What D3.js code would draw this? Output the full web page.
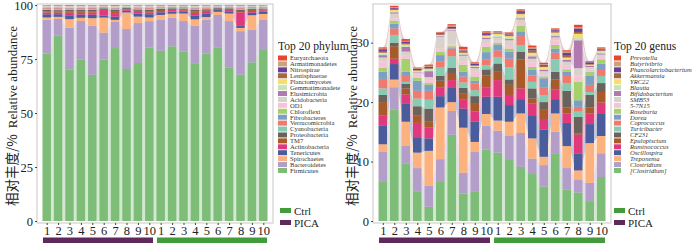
<!DOCTYPE html>
<html>
<head>
<meta charset="utf-8">
<script src="https://cdn.jsdelivr.net/npm/d3@7"></script>
<style>
  body { margin: 0; background: #fff; }
  svg { display: block; }
</style>
</head>
<body>
<svg id="chart" width="700" height="246"></svg>
<script>
// samples: 10 PICA then 10 Ctrl
const sampleLabels = ["1","2","3","4","5","6","7","8","9","10","1","2","3","4","5","6","7","8","9","10"];
const sampleGroups = ["PICA","PICA","PICA","PICA","PICA","PICA","PICA","PICA","PICA","PICA",
                      "Ctrl","Ctrl","Ctrl","Ctrl","Ctrl","Ctrl","Ctrl","Ctrl","Ctrl","Ctrl"];
const groupNames = ["Ctrl", "PICA"];
const groupColors = ["#429c3c", "#5e2a5c"];

// shared palette, legend order (top of legend first)
const palette = ["#e8452c","#c9a27e","#6b3f98","#a66a3a","#f7dc6f","#c7e5b4","#b079b0","#d9d2cb","#f7c3da","#a5d06b",
                 "#7d9fc2","#f07a6f","#87cbb3","#6a625d","#a85a2b","#e0387d","#4b5c9c","#fbb27f","#b39dc9","#7dbd78"];

// ---- phylum (relative abundance, %) ----
const phylumNames = ["Euryarchaeota","Armatimonadetes","Nitrospirae","Lentisphaerae","Planctomycetes","Gemmatimonadete",
  "Elusimicrobia","Acidobacteria","OD1","Chloroflexi","Fibrobacteres","Verrucomicrobia","Cyanobacteria","Proteobacteria",
  "TM7","Actinobacteria","Tenericutes","Spirochaetes","Bacteroidetes","Firmicutes"];
const euryarchaeota    = [0.1,0.1,0.15,0.1,0.1,0.1,0.1,0.1,0.1,0.1, 0.1,0.1,0.1,0.15,0.1,0.1,0.1,0.1,0.1,0.1];
const armatimonadetes  = [0.05,0.05,0.05,0.05,0.05,0.05,0.05,0.05,0.05,0.05, 0.05,0.05,0.05,0.05,0.05,0.05,0.05,0.05,0.05,0.05];
const nitrospirae      = [0.05,0.05,0.1,0.05,0.05,0.05,0.1,0.05,0.05,0.05, 0.05,0.05,0.05,0.05,0.05,0.05,0.05,0.05,0.05,0.05];
const lentisphaerae    = [0.1,0.1,0.1,0.15,0.1,0.1,0.15,0.05,0.1,0.1, 0.1,0.1,0.1,0.1,0.1,0.05,0.1,0.1,0.1,0.1];
const planctomycetes   = [0.1,0.1,0.1,0.1,0.1,0.05,0.1,0.05,0.1,0.1, 0.05,0.05,0.05,0.1,0.1,0.05,0.05,0.1,0.05,0.05];
const gemmatimonadetes = [0.1,0.1,0.1,0.1,0.1,0.05,0.1,0.05,0.1,0.1, 0.1,0.05,0.05,0.1,0.1,0.05,0.05,0.1,0.05,0.05];
const elusimicrobia    = [0.1,0.1,0.1,0.1,0.1,0.1,0.1,0.05,0.1,0.1, 0.1,0.1,0.1,0.1,0.1,0.05,0.1,0.1,0.1,0.1];
const acidobacteria    = [0.2,0.2,0.2,0.2,0.2,0.15,0.2,0.15,0.2,0.2, 0.15,0.15,0.15,0.2,0.2,0.1,0.15,0.2,0.15,0.15];
const od1              = [0.15,0.15,0.15,0.15,0.15,0.1,0.15,0.1,0.15,0.15, 0.1,0.1,0.1,0.15,0.15,0.1,0.1,0.15,0.1,0.1];
const chloroflexi      = [0.2,0.2,0.2,0.2,0.2,0.15,0.2,0.15,0.2,0.2, 0.15,0.15,0.15,0.2,0.2,0.1,0.15,0.2,0.15,0.15];
const fibrobacteres    = [0.3,0.3,0.3,0.3,0.3,0.2,0.3,0.2,0.3,0.3, 0.2,0.2,0.2,0.3,0.2,0.2,0.2,0.3,0.2,0.2];
const verrucomicrobia  = [0.4,0.4,0.4,0.4,0.4,0.2,0.4,0.2,0.3,0.4, 0.3,0.2,0.3,0.4,0.3,0.2,0.2,0.4,0.3,0.3];
const cyanobacteria    = [0.3,0.5,0.3,0.3,0.3,0.2,0.3,0.2,0.3,0.3, 0.3,0.2,0.2,0.3,0.3,0.2,0.2,0.3,0.3,0.2];
const proteobacteria   = [0.7,0.6,0.7,0.7,0.7,0.4,0.8,0.4,0.6,0.7, 0.5,0.4,0.4,0.7,0.6,0.3,0.4,0.6,0.5,0.4];
const tm7              = [0.6,0.5,0.6,0.7,0.6,0.4,0.7,0.3,0.5,0.6, 0.5,0.4,0.4,0.7,0.6,0.3,0.4,0.6,0.5,0.4];
const actinobacteria   = [0.8,0.8,1.2,0.8,1.0,2.5,1.6,0.5,0.8,0.8, 0.6,0.7,0.5,1.2,0.9,0.4,0.6,6.0,0.8,0.7];
const tenericutes      = [1.5,1.2,1.8,1.5,1.6,1.0,1.5,0.8,1.4,1.5, 1.2,1.0,1.0,1.8,1.5,0.8,1.0,1.2,1.2,1.0];
const spirochaetes     = [1.0,1.0,4.0,1.5,3.5,7.0,1.0,7.7,3.0,1.7, 2.3,1.8,3.5,3.0,1.2,1.5,3.5,1.5,6.6,2.8];
const bacteroidetes    = [15.8,7.7,19.3,17.8,22.7,12.5,12.1,18.5,18.5,12.2, 14.3,13.3,14.2,17.3,15.8,15.2,21.6,20.1,15.2,13.5];
const firmicutes       = [77.6,85.8,70.4,74.9,67.6,74.9,80.2,70.4,73.3,80.4, 78.8,81.0,78.4,73.0,77.6,80.2,71.0,67.6,73.5,79.6];
const phylumValues = [euryarchaeota, armatimonadetes, nitrospirae, lentisphaerae, planctomycetes, gemmatimonadetes,
  elusimicrobia, acidobacteria, od1, chloroflexi, fibrobacteres, verrucomicrobia, cyanobacteria, proteobacteria,
  tm7, actinobacteria, tenericutes, spirochaetes, bacteroidetes, firmicutes];
const phylumTicks = [0, 25, 50, 75, 100];

// ---- genus (%) ----
const genusNames = ["Prevotella","Butyrivibrio","Phascolarctobacterium","Akkermansia","YRC22","Blautia","Bifidobacterium",
  "SMB53","5-7N15","Roseburia","Dorea","Coprococcus","Turicibacter","CF231","Epulopiscium","Ruminococcus",
  "Oscillospira","Treponema","Clostridium","[Clostridium]"];
const prevotella      = [0.2,0.2,0.3,0.1,0.2,0.1,0.2,0.4,0.1,0.2, 0.1,0.2,0.2,0.3,0.2,0.2,0.2,0.4,0.1,0.2];
const butyrivibrio    = [0.1,0.1,0.1,0.1,0.2,0.1,0.2,0.2,0.1,0.1, 0.1,0.1,0.1,0.2,0.1,0.1,0.2,0.2,0.1,0.1];
const phascolarcto    = [0.3,0.2,0.3,0.2,0.2,0.2,0.3,0.2,0.3,0.3, 0.1,0.2,0.3,0.3,0.2,0.2,0.5,0.6,0.3,0.2];
const akkermansia     = [0.3,0.2,0.2,0.1,0.1,0.1,0.1,0.2,0.1,0.1, 0.1,0.1,0.2,0.4,0.2,0.2,0.3,0.3,0.1,0.1];
const yrc22           = [0.1,0.2,0.2,0.1,0.2,0.1,0.1,0.2,0.1,0.2, 0.3,0.3,0.4,0.3,0.3,0.3,0.2,0.7,0.1,0.2];
const blautia         = [0.3,0.2,0.2,0.1,0.2,0.1,0.1,0.1,0.1,0.2, 0.2,0.2,0.3,0.3,0.2,0.3,0.2,0.4,0.1,0.2];
const bifidobacterium = [0.4,0.2,0.8,0.1,1.0,0.1,0.1,0.2,0.2,0.2, 0.1,0.2,0.2,0.4,0.2,0.2,0.3,4.7,0.2,0.2];
const smb53           = [0.7,0.8,0.6,0.3,0.5,2.0,2.3,1.0,0.6,0.8, 0.6,0.8,0.6,0.6,0.5,0.5,0.7,1.2,0.4,0.4];
const s7n15           = [1.0,0.4,0.6,0.6,0.5,0.5,0.3,0.5,0.8,0.5, 0.3,0.6,0.5,0.8,0.4,0.8,0.6,1.1,0.4,0.4];
const roseburia       = [0.7,0.5,2.2,0.5,0.3,0.6,0.2,1.2,0.7,0.9, 0.3,0.5,0.9,0.5,0.3,0.6,0.4,3.1,0.7,0.7];
const dorea           = [1.2,0.8,0.7,1.7,1.0,1.1,0.2,0.8,0.5,1.2, 1.0,1.2,0.8,0.9,1.5,0.7,0.7,1.1,1.5,1.1];
const coprococcus     = [1.6,1.1,1.0,1.3,1.5,1.0,1.3,1.0,1.1,1.0, 1.1,1.4,1.5,1.1,1.3,1.1,1.2,0.8,1.2,1.0];
const turicibacter    = [1.1,1.3,0.3,1.3,1.5,1.4,1.9,0.9,1.0,0.7, 1.1,2.1,1.1,1.1,1.2,2.1,1.3,0.9,0.5,1.2];
const cf231           = [1.2,0.6,0.8,1.5,2.2,0.8,0.9,1.0,1.3,1.0, 1.4,0.9,1.3,1.7,1.3,1.3,2.8,2.8,2.1,1.5];
const epulopiscium    = [2.2,2.1,1.0,1.3,1.0,1.1,1.2,1.0,1.3,2.0, 1.4,1.7,4.9,0.8,1.7,1.7,1.0,0.2,1.0,1.8];
const ruminococcus    = [1.7,0.9,1.5,2.4,1.8,1.5,1.2,1.5,1.7,1.6, 2.8,1.7,1.8,2.0,1.6,1.6,1.6,3.2,1.8,1.9];
const oscillospira    = [3.2,2.6,3.1,2.6,2.1,1.9,2.5,3.2,3.4,2.9, 4.0,2.8,2.4,3.9,4.6,2.4,3.9,2.8,3.2,3.7];
const treponema       = [1.3,1.3,4.0,2.6,5.9,8.7,1.5,7.6,1.7,2.0, 1.7,2.4,3.3,3.4,1.4,3.1,3.7,1.5,6.7,2.9];
const clostridium     = [4.9,3.8,3.0,4.0,3.5,3.7,4.0,3.5,6.7,4.0, 3.7,3.9,5.7,2.6,3.6,3.6,3.6,2.2,3.2,4.0];
const clostridiumB    = [6.7,18.7,9.7,4.9,2.4,6.7,14.5,4.6,4.9,12.0, 11.5,10.4,9.1,7.9,5.8,11.4,5.3,4.8,3.2,7.4];
const genusValues = [prevotella, butyrivibrio, phascolarcto, akkermansia, yrc22, blautia, bifidobacterium,
  smb53, s7n15, roseburia, dorea, coprococcus, turicibacter, cf231, epulopiscium, ruminococcus,
  oscillospira, treponema, clostridium, clostridiumB];
const genusTicks = [0, 10, 20, 30];

const serif = "'Liberation Serif', 'Times New Roman', serif";
const cjk = "'Noto Sans CJK SC', sans-serif";
const svg = d3.select("#chart");

function drawPanel(cfg) {
  const g = svg.append("g");
  const keys = cfg.names.slice().reverse();   // bottom of stack first
  const color = d3.scaleOrdinal(cfg.names, palette);

  const rows = sampleLabels.map((s, i) => {
    const r = {};
    const tot = d3.sum(cfg.values, v => v[i]);
    cfg.names.forEach((n, k) => {
      r[n] = cfg.normalize ? cfg.values[k][i] * 100 / tot : cfg.values[k][i];
    });
    return r;
  });
  const series = d3.stack().keys(keys)(rows);

  const x = d3.scalePoint()
    .domain(d3.range(sampleLabels.length))
    .range([cfg.left, cfg.right])
    .padding(0.85);
  const bw = x.step() * 0.74;
  const y = d3.scaleLinear().domain([0, cfg.yMax]).range([221, 4]);

  // flows between neighbouring bars
  const flowPath = (s, i) => {
    const x0 = x(i), x1 = x(i + 1), xm = (x0 + x1) / 2;
    const t0 = y(s[i][1]), t1 = y(s[i + 1][1]);
    const b0 = y(s[i][0]), b1 = y(s[i + 1][0]);
    return `M${x0},${t0}C${xm},${t0} ${xm},${t1} ${x1},${t1}L${x1},${b1}C${xm},${b1} ${xm},${b0} ${x0},${b0}Z`;
  };
  g.append("g").selectAll("g")
    .data(series)
    .join("g")
      .attr("fill", d => color(d.key))
      .attr("fill-opacity", 0.35)
    .selectAll("path")
    .data(s => d3.range(s.length - 1).map(i => flowPath(s, i)))
    .join("path")
      .attr("d", d => d);

  // bars
  g.append("g").selectAll("g")
    .data(series)
    .join("g")
      .attr("fill", d => color(d.key))
    .selectAll("rect")
    .data(d => d)
    .join("rect")
      .attr("x", (d, i) => x(i) - bw / 2)
      .attr("y", d => y(d[1]))
      .attr("width", bw)
      .attr("height", d => Math.max(0, y(d[0]) - y(d[1])));

  // panel border
  g.append("rect")
    .attr("x", cfg.left).attr("y", 4)
    .attr("width", cfg.right - cfg.left).attr("height", 219)
    .attr("fill", "none").attr("stroke", "#cbc5c5").attr("stroke-width", 1);

  // y axis
  const ya = g.append("g")
    .attr("transform", `translate(${cfg.left},0)`)
    .call(d3.axisLeft(y).tickValues(cfg.ticks).tickSize(2).tickPadding(2));
  ya.select(".domain").remove();
  ya.selectAll("line").attr("stroke", "#444");
  ya.selectAll("text").attr("font-family", serif).attr("font-size", 12.5).attr("fill", "#222");

  // x axis
  const xa = g.append("g")
    .attr("transform", "translate(0,223)")
    .call(d3.axisBottom(x).tickFormat(i => sampleLabels[i]).tickSize(2).tickPadding(1));
  xa.select(".domain").remove();
  xa.selectAll("line").attr("stroke", "#444");
  xa.selectAll("text").attr("font-family", serif).attr("font-size", 12.5).attr("fill", "#222");

  // group bars under the axis
  const half = x.step() / 2 - 2;
  groupNames.slice().reverse().forEach(gr => {
    const idx = d3.range(sampleLabels.length).filter(i => sampleGroups[i] === gr);
    g.append("rect")
      .attr("x", x(d3.min(idx)) - half)
      .attr("y", 237.5)
      .attr("width", x(d3.max(idx)) - x(d3.min(idx)) + 2 * half)
      .attr("height", 5.5)
      .attr("fill", groupColors[groupNames.indexOf(gr)]);
  });

  // y title
  const yt = g.append("text")
    .attr("transform", `translate(${cfg.titleX},116) rotate(-90)`)
    .attr("text-anchor", "middle")
    .attr("fill", "#222");
  yt.append("tspan").attr("font-family", cjk).attr("font-size", 13.5).text("相对丰度/%");
  yt.append("tspan").attr("font-family", serif).attr("font-size", 13).attr("dx", 6).text("Relative abundance");

  // legend
  const lg = g.append("g").attr("transform", `translate(${cfg.legX},0)`);
  lg.append("text")
    .attr("x", 0).attr("y", 50)
    .attr("font-family", serif).attr("font-size", 11.6).attr("fill", "#222")
    .text(cfg.legTitle);
  const item = lg.selectAll("g.item")
    .data(cfg.names)
    .join("g")
      .attr("class", "item")
      .attr("transform", (d, i) => `translate(0,${55.5 + i * 5.92})`);
  item.append("rect")
    .attr("x", cfg.swX).attr("width", cfg.swW).attr("height", 5)
    .attr("fill", d => color(d));
  item.append("text")
    .attr("x", cfg.txtX).attr("y", 4.8)
    .attr("font-family", serif).attr("font-size", 6.6)
    .attr("font-style", cfg.italic ? "italic" : "normal")
    .attr("fill", "#333")
    .text(d => d);

  // group legend
  const gl = lg.selectAll("g.grp")
    .data(groupNames)
    .join("g")
      .attr("class", "grp")
      .attr("transform", (d, i) => `translate(0,${208 + i * 12})`);
  gl.append("rect")
    .attr("x", cfg.grpX).attr("width", 11).attr("height", 5)
    .attr("fill", (d, i) => groupColors[i]);
  gl.append("text")
    .attr("x", cfg.grpX + 14).attr("y", 6.5)
    .attr("font-family", serif).attr("font-size", 11).attr("fill", "#222")
    .text(d => d);
}

drawPanel({
  names: phylumNames, values: phylumValues, normalize: true,
  left: 37, right: 273, yMax: 100.5, ticks: phylumTicks, titleX: 17,
  legX: 278, legTitle: "Top 20 phylum", swX: 0, swW: 9, txtX: 12, italic: false, grpX: 2
});
drawPanel({
  names: genusNames, values: genusValues, normalize: false,
  left: 373, right: 611, yMax: 36.5, ticks: genusTicks, titleX: 357,
  legX: 614, legTitle: "Top 20 genus", swX: 0, swW: 7, txtX: 16, italic: true, grpX: 0
});
</script>
</body>
</html>
